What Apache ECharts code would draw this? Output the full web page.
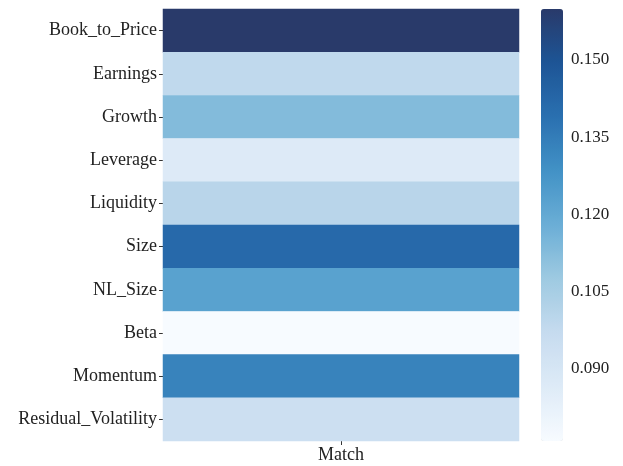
<!DOCTYPE html>
<html>
<head>
<meta charset="utf-8">
<script src="https://cdn.jsdelivr.net/npm/echarts@6/dist/echarts.min.js"></script>
<style>html,body{margin:0;padding:0;background:#fff}#c{width:623px;height:466px}</style>
</head>
<body>
<div id="c"></div>
<script>
const factors = ['Book_to_Price','Earnings','Growth','Leverage','Liquidity','Size','NL_Size','Beta','Momentum','Residual_Volatility'];
const columns = ['Match'];
const values = [0.1599, 0.0985, 0.1130, 0.0870, 0.1005, 0.1415, 0.1225, 0.0760, 0.1330, 0.0945];
const colorbarTicks = [0.090, 0.105, 0.120, 0.135, 0.150];
const vMin = 0.0760, vMax = 0.1599;
const blues = ['#f7fbff','#deebf7','#c6dbef','#9ecae1','#6baed6','#4292c6','#2a70b0','#1d5596','#293a6a'];

const data = values.map((v, i) => [0, i, v]);
const font = 'Liberation Serif, Times New Roman, serif';
const chart = echarts.init(document.getElementById('c'));
chart.setOption({
  animation: false,
  backgroundColor: '#fff',
  grid: [
    {left: 163, right: 104, top: 9, bottom: 25},
    {left: 541, width: 22, top: 9, height: 432}
  ],
  xAxis: [
    {type: 'category', data: columns, gridIndex: 0,
     axisLine: {show: false}, splitLine: {show: false},
     axisTick: {show: true, alignWithLabel: true, length: 4, lineStyle: {color: '#333'}},
     axisLabel: {fontFamily: font, fontSize: 18, color: '#222', margin: 5}},
    {type: 'value', gridIndex: 1, show: false, min: 0, max: 1}
  ],
  yAxis: [
    {type: 'category', data: factors, inverse: true, gridIndex: 0,
     axisLine: {show: false}, splitLine: {show: false},
     axisTick: {show: true, alignWithLabel: true, length: 4, lineStyle: {color: '#333'}},
     axisLabel: {fontFamily: font, fontSize: 18, color: '#222', margin: 6}},
    {type: 'value', gridIndex: 1, position: 'right', min: vMin, max: vMax,
     axisLine: {show: false}, splitLine: {show: false},
     axisTick: {show: true, length: 4, customValues: colorbarTicks, lineStyle: {color: '#333'}},
     axisLabel: {fontFamily: font, fontSize: 17, color: '#222', margin: 8,
       customValues: colorbarTicks, formatter: v => v.toFixed(3)}}
  ],
  visualMap: {
    type: 'continuous', min: vMin, max: vMax, calculable: false,
    seriesIndex: 0, orient: 'vertical', left: 541, top: 9, padding: 0,
    itemWidth: 22, itemHeight: 432, text: null, showLabel: false,
    inRange: {color: blues}
  },
  series: [{
    type: 'heatmap', xAxisIndex: 0, yAxisIndex: 0, data: data,
    itemStyle: {borderWidth: 0}, emphasis: {disabled: true}
  }]
});
</script>
</body>
</html>
